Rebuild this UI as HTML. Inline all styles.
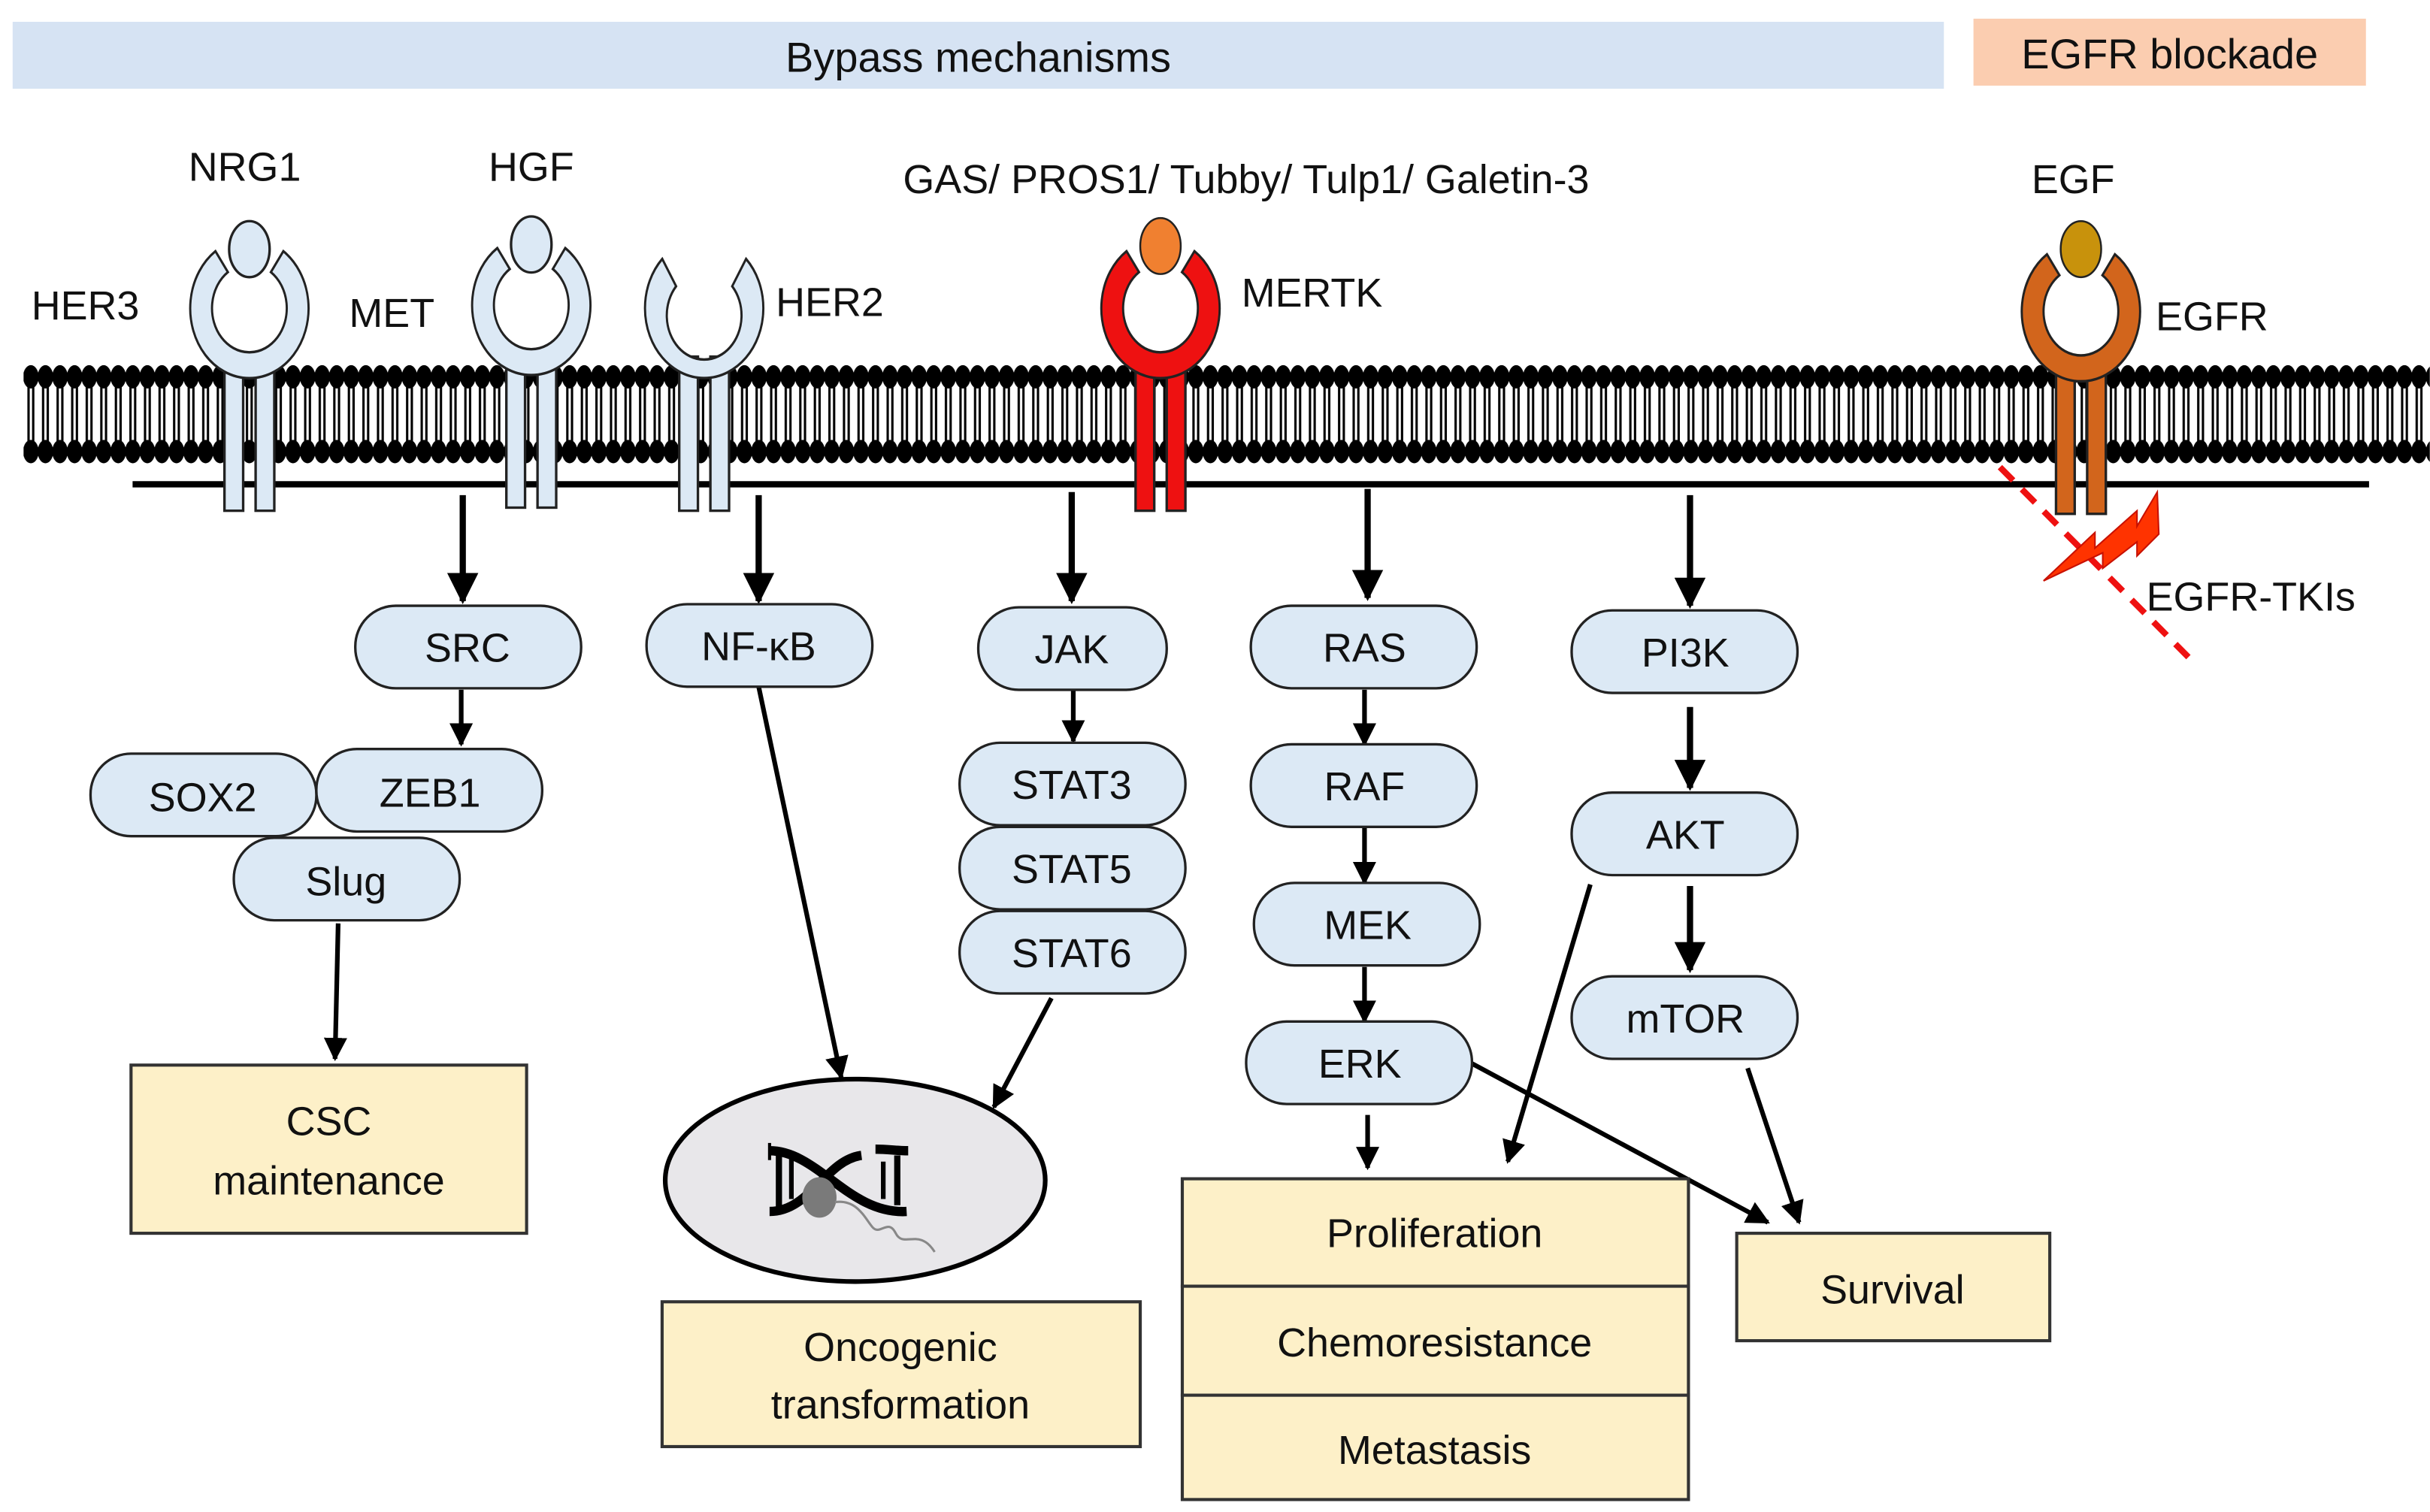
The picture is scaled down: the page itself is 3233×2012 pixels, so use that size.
<!DOCTYPE html>
<html><head><meta charset="utf-8">
<style>
html,body{margin:0;padding:0;background:#fff;}
svg{display:block;}
text{font-family:"Liberation Sans",Arial,sans-serif;fill:#111;}
</style></head>
<body>
<svg width="3233" height="2012" viewBox="0 0 1560 971" xmlns="http://www.w3.org/2000/svg">
<defs>
<pattern id="mem" x="15" y="0" width="9.35" height="971" patternUnits="userSpaceOnUse">
  <line x1="3.2" y1="244" x2="3.2" y2="288" stroke="#000" stroke-width="1.5"/>
  <line x1="6.2" y1="244" x2="6.2" y2="288" stroke="#000" stroke-width="1.5"/>
  <ellipse cx="4.7" cy="242" rx="5" ry="7.5" fill="#000"/>
  <ellipse cx="4.7" cy="290" rx="5" ry="7.5" fill="#000"/>
</pattern>
<marker id="ah" viewBox="0 0 10 10" refX="9" refY="5" markerWidth="5" markerHeight="5" orient="auto" markerUnits="strokeWidth">
  <path d="M0,0 L10,5 L0,10 Z" fill="#000"/>
</marker>
<g id="rec">
  <rect x="-16" y="31" width="12" height="99" stroke="#222" stroke-width="1.6"/>
  <rect x="4" y="31" width="12" height="99" stroke="#222" stroke-width="1.6"/>
  <path transform="scale(1,1.18)" d="M-21.8,-31.1 A38 38 0 1 0 21.8,-31.1 L13.8,-19.7 A24 24 0 1 1 -13.8,-19.7 Z" stroke="#222" stroke-width="1.4"/>
</g>
<g id="rec2">
  <rect x="-16" y="31" width="12" height="99" stroke="#222" stroke-width="1.6"/>
  <rect x="4" y="31" width="12" height="99" stroke="#222" stroke-width="1.6"/>
  <path transform="scale(1,1.18)" d="M-26.9,-26.9 A38 38 0 1 0 26.9,-26.9 L18,-12 A24 24 0 1 1 -18,-12 Z" stroke="#222" stroke-width="1.4"/>
</g>
</defs>

<rect x="8" y="14" width="1240" height="43" fill="#d6e3f3"/>
<text x="628" y="46" font-size="27" text-anchor="middle">Bypass mechanisms</text>
<rect x="1267" y="12" width="252" height="43" fill="#fbcdb0"/>
<text x="1393" y="44" font-size="27" text-anchor="middle">EGFR blockade</text>

<text x="157" y="116" font-size="26" text-anchor="middle">NRG1</text>
<text x="341" y="116" font-size="26" text-anchor="middle">HGF</text>
<text x="800" y="124" font-size="26" text-anchor="middle">GAS/ PROS1/ Tubby/ Tulp1/ Galetin-3</text>
<text x="1331" y="124" font-size="26" text-anchor="middle">EGF</text>
<text x="20" y="205" font-size="26">HER3</text>
<text x="224" y="210" font-size="26">MET</text>
<text x="498" y="203" font-size="26">HER2</text>
<text x="797" y="197" font-size="26">MERTK</text>
<text x="1384" y="212" font-size="26">EGFR</text>

<rect x="15" y="232" width="1545" height="68" fill="url(#mem)"/>
<line x1="85" y1="311" x2="1521" y2="311" stroke="#000" stroke-width="4"/>

<use href="#rec" x="160" y="198" fill="#dce9f5"/>
<ellipse cx="160" cy="160" rx="13" ry="18" fill="#dce9f5" stroke="#222" stroke-width="1.6"/>
<use href="#rec" x="341" y="196" fill="#dce9f5"/>
<ellipse cx="341" cy="157" rx="13" ry="18" fill="#dce9f5" stroke="#222" stroke-width="1.6"/>
<use href="#rec2" x="452" y="198" fill="#dce9f5"/>
<use href="#rec" x="745" y="198" fill="#ee1111"/>
<ellipse cx="745" cy="158" rx="13" ry="18" fill="#f08030" stroke="#222" stroke-width="1.2"/>
<use href="#rec" x="1336" y="200" fill="#d2651c"/>
<ellipse cx="1336" cy="160" rx="13" ry="18" fill="#c8920c" stroke="#222" stroke-width="1.2"/>

<line x1="1284" y1="300" x2="1405" y2="422" stroke="#ee1111" stroke-width="4" stroke-dasharray="12,8"/>
<path d="M1312,373 L1345,342 L1345,352 L1372,328 L1372,338 L1385,316 L1386,343 L1372,357 L1372,348 L1350,365 L1350,355 Z" fill="#ff3300" stroke="#c81000" stroke-width="1"/>
<text x="1378" y="392" font-size="26">EGFR-TKIs</text>

<g stroke="#000" stroke-width="4" fill="none">
<line x1="297" y1="318" x2="297" y2="386" marker-end="url(#ah)"/>
<line x1="487" y1="318" x2="487" y2="386" marker-end="url(#ah)"/>
<line x1="688" y1="316" x2="688" y2="386" marker-end="url(#ah)"/>
<line x1="878" y1="314" x2="878" y2="384" marker-end="url(#ah)"/>
<line x1="1085" y1="318" x2="1085" y2="389" marker-end="url(#ah)"/>
<line x1="1085" y1="454" x2="1085" y2="506" marker-end="url(#ah)"/>
<line x1="1085" y1="569" x2="1085" y2="623" marker-end="url(#ah)"/>
</g>
<g stroke="#000" stroke-width="3" fill="none">
<line x1="296" y1="443" x2="296" y2="478" marker-end="url(#ah)"/>
<line x1="689" y1="443" x2="689" y2="476" marker-end="url(#ah)"/>
<line x1="876" y1="443" x2="876" y2="478" marker-end="url(#ah)"/>
<line x1="876" y1="531" x2="876" y2="567" marker-end="url(#ah)"/>
<line x1="876" y1="621" x2="876" y2="656" marker-end="url(#ah)"/>
<line x1="878" y1="716" x2="878" y2="750" marker-end="url(#ah)"/>
<line x1="217" y1="593" x2="215" y2="680" marker-end="url(#ah)"/>
<line x1="487" y1="441" x2="540" y2="692" marker-end="url(#ah)"/>
<line x1="675" y1="641" x2="638" y2="711" marker-end="url(#ah)"/>
<line x1="1021" y1="568" x2="968" y2="746" marker-end="url(#ah)"/>
<line x1="945" y1="683" x2="1135" y2="785" marker-end="url(#ah)"/>
<line x1="1122" y1="686" x2="1155" y2="785" marker-end="url(#ah)"/>
</g>

<g fill="#dce9f5" stroke="#222" stroke-width="1.6">
<rect x="228" y="389" width="145" height="53" rx="26"/>
<rect x="415" y="388" width="145" height="53" rx="26"/>
<rect x="628" y="390" width="121" height="53" rx="26"/>
<rect x="616" y="477" width="145" height="53" rx="26"/>
<rect x="616" y="531" width="145" height="53" rx="26"/>
<rect x="616" y="585" width="145" height="53" rx="26"/>
<rect x="803" y="389" width="145" height="53" rx="26"/>
<rect x="803" y="478" width="145" height="53" rx="26"/>
<rect x="805" y="567" width="145" height="53" rx="26"/>
<rect x="800" y="656" width="145" height="53" rx="26"/>
<rect x="1009" y="392" width="145" height="53" rx="26"/>
<rect x="1009" y="509" width="145" height="53" rx="26"/>
<rect x="1009" y="627" width="145" height="53" rx="26"/>
<rect x="58" y="484" width="145" height="53" rx="26"/>
<rect x="203" y="481" width="145" height="53" rx="26"/>
<rect x="150" y="538" width="145" height="53" rx="26"/>
</g>
<g font-size="26" text-anchor="middle">
<text x="300" y="425">SRC</text>
<text x="487" y="424">NF-κB</text>
<text x="688" y="426">JAK</text>
<text x="688" y="513">STAT3</text>
<text x="688" y="567">STAT5</text>
<text x="688" y="621">STAT6</text>
<text x="876" y="425">RAS</text>
<text x="876" y="514">RAF</text>
<text x="878" y="603">MEK</text>
<text x="873" y="692">ERK</text>
<text x="1082" y="428">PI3K</text>
<text x="1082" y="545">AKT</text>
<text x="1082" y="663">mTOR</text>
<text x="130" y="521">SOX2</text>
<text x="276" y="518">ZEB1</text>
<text x="222" y="575">Slug</text>
</g>

<ellipse cx="549" cy="758" rx="122" ry="65" fill="#e8e7ea" stroke="#000" stroke-width="3"/>
<g fill="none" stroke="#000">
<path d="M494,739 C525,739 545,780 582,778" stroke-width="6"/>
<path d="M494,778 C520,778 530,745 553,742" stroke-width="6"/>
<path d="M562,738 C570,738 576,739 583,739" stroke-width="6"/>
<line x1="494" y1="734" x2="494" y2="745" stroke-width="2"/>
<line x1="500" y1="742" x2="500" y2="776" stroke-width="4"/>
<line x1="508" y1="742" x2="508" y2="770" stroke-width="3"/>
<line x1="567" y1="746" x2="567" y2="770" stroke-width="3"/>
<line x1="576" y1="742" x2="576" y2="774" stroke-width="4"/>
</g>
<ellipse cx="526" cy="769" rx="11" ry="13" fill="#7a7a7a"/>
<path d="M536,772 C550,770 555,782 560,788 S570,782 575,792 S590,788 600,804" stroke="#888" stroke-width="1.5" fill="none"/>

<g fill="#fdf0c8" stroke="#333" stroke-width="2">
<rect x="84" y="684" width="254" height="108"/>
<rect x="425" y="836" width="307" height="93"/>
<rect x="759" y="757" width="325" height="69"/>
<rect x="759" y="826" width="325" height="70"/>
<rect x="759" y="896" width="325" height="67"/>
<rect x="1115" y="792" width="201" height="69"/>
</g>
<g font-size="26" text-anchor="middle">
<text x="211" y="729">CSC</text>
<text x="211" y="767">maintenance</text>
<text x="578" y="874">Oncogenic</text>
<text x="578" y="911">transformation</text>
<text x="921" y="801">Proliferation</text>
<text x="921" y="871">Chemoresistance</text>
<text x="921" y="940">Metastasis</text>
<text x="1215" y="837">Survival</text>
</g>
</svg>
</body></html>
